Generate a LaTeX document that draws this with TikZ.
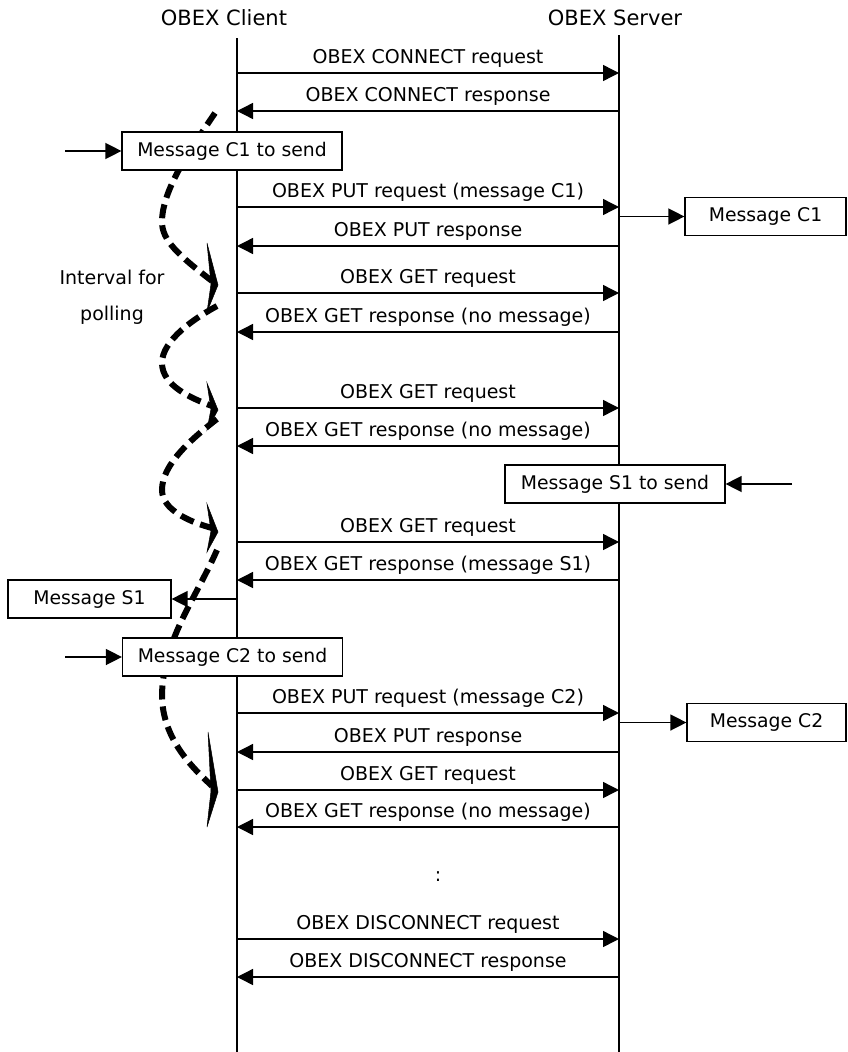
\documentclass[tikz,border=0pt]{standalone}
\usepackage{fontspec}
\setmainfont{DejaVu Sans}
\usetikzlibrary{arrows.meta}
\begin{document}
\begin{tikzpicture}[x=1pt,y=-1pt,
  life/.style={line width=1.4pt},
  msg/.style={line width=1.4pt,-{Triangle[length=16pt,width=16pt]}},
  lbl/.style={anchor=base,inner sep=0pt,font=\fontsize{19}{23}\selectfont},
  txt/.style={inner sep=0pt,font=\fontsize{19}{23}\selectfont},
  hdr/.style={inner sep=0pt,font=\fontsize{21}{25}\selectfont},
  box/.style={draw,line width=1.2pt,fill=white,minimum height=38pt,inner sep=0pt,font=\fontsize{18.8}{22}\selectfont},
  wave/.style={line width=6pt,dash pattern=on 14pt off 7pt},
  head/.style={fill=black,draw=black,line width=0.5pt,line join=miter}]
\useasboundingbox (0,0) rectangle (848,1052);

% polling wave (drawn first, under boxes)
\draw[wave] (215,113) .. controls (190,150) and (162,190) .. (162,222) .. controls (162,240) and (178,255) .. (212,281);
\filldraw[head] (207,243) -- (218,285) -- (207,312) -- (211,284) -- cycle;
\draw[wave] (217,306) .. controls (195,318) and (162,340) .. (162,363) .. controls (162,385) and (190,398) .. (212,406);
\filldraw[head] (207,383) -- (218,410) -- (207,430) -- (211,409) -- cycle;
\draw[wave] (217,419) .. controls (190,440) and (162,465) .. (162,490) .. controls (162,510) and (190,522) .. (212,528);
\filldraw[head] (207,504) -- (218,532) -- (207,552) -- (211,531) -- cycle;
\draw[wave] (217,550) .. controls (195,600) and (163,640) .. (162,695) .. controls (162,740) and (195,770) .. (212,786);
\filldraw[head] (208,732) -- (218,792) -- (207,827) -- (211,791) -- cycle;

% headers and lifelines
\node[hdr] (hc) at (224,18) {OBEX Client};
\node[hdr] (hs) at (615,18) {OBEX Server};
\coordinate (ct) at (237,38);
\coordinate (cb) at (237,1052);
\coordinate (st) at (619,35);
\coordinate (sb) at (619,1052);
\draw[life] (ct) -- (cb);
\draw[life] (st) -- (sb);

% messages
\foreach \n/\y/\dir/\t in {
  1/73/r/OBEX CONNECT request,
  2/111/l/OBEX CONNECT response,
  3/207/r/OBEX PUT request (message C1),
  4/246/l/OBEX PUT response,
  5/293/r/OBEX GET request,
  6/332/l/OBEX GET response (no message),
  7/408/r/OBEX GET request,
  8/446/l/OBEX GET response (no message),
  9/542/r/OBEX GET request,
  10/580/l/OBEX GET response (message S1),
  11/713/r/OBEX PUT request (message C2),
  12/752/l/OBEX PUT response,
  13/790/r/OBEX GET request,
  14/827/l/OBEX GET response (no message),
  15/939/r/OBEX DISCONNECT request,
  16/977/l/OBEX DISCONNECT response}{
  \coordinate (c\n) at (237,\y);
  \coordinate (s\n) at (619,\y);
  \if r\dir
    \draw[msg] (c\n) -- (s\n) node[lbl,midway,yshift=10pt] (m\n) {\t};
  \else
    \draw[msg] (s\n) -- (c\n) node[lbl,midway,yshift=10pt] (m\n) {\t};
  \fi
}

% client-side boxes
\node[box,minimum width=220pt] (bc1) at (232,151) {Message C1 to send};
\coordinate (ic1) at (65,151);
\draw[msg] (ic1) -- (bc1.west);

\node[box,minimum width=220pt] (bc2) at (232.5,657) {Message C2 to send};
\coordinate (ic2) at (65,657);
\draw[msg] (ic2) -- (bc2.west);

\node[box,minimum width=163pt] (rs1) at (89.5,599) {Message S1};
\coordinate (cs1) at (237,599);
\draw[msg] (cs1) -- (rs1.east);

% server-side boxes
\node[box,minimum width=220pt] (bs1) at (615,484) {Message S1 to send};
\coordinate (is1) at (792,484);
\draw[msg] (is1) -- (bs1.east);

\node[box,minimum width=161pt] (rc1) at (765.5,216.5) {Message C1};
\coordinate (sc1) at (619,216.5);
\draw[msg] (sc1) -- (rc1.west);

\node[box,minimum width=159pt] (rc2) at (766.5,722.5) {Message C2};
\coordinate (sc2) at (619,722.5);
\draw[msg] (sc2) -- (rc2.west);

% texts
\node[txt] (iv1) at (112,277) {Interval for};
\node[txt] (iv2) at (112,315) {polling};
\node[txt] (dots) at (438,877) {:};
\end{tikzpicture}
\end{document}
